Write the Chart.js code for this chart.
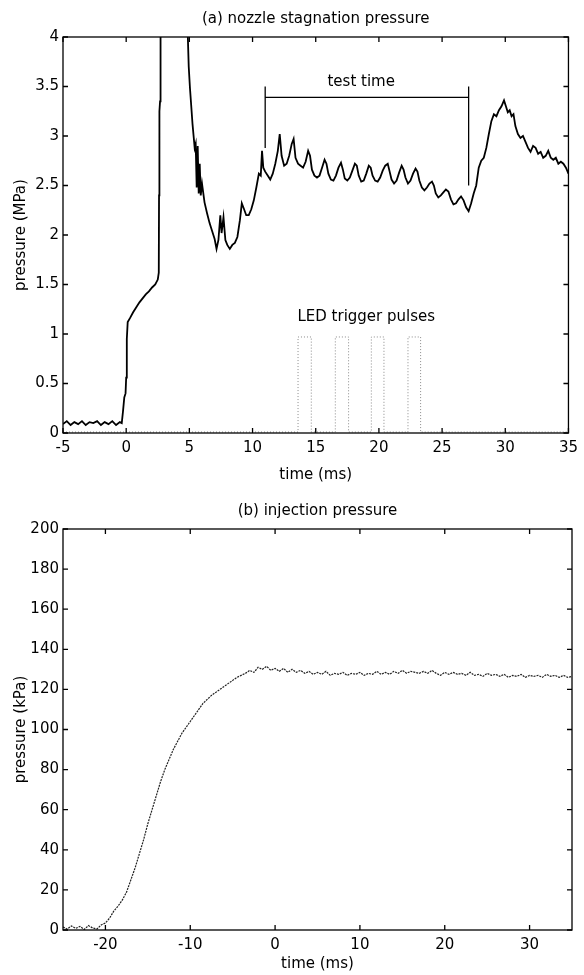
<!DOCTYPE html>
<html>
<head>
<meta charset="utf-8">
<script src="https://cdn.jsdelivr.net/npm/chart.js@4.4.1/dist/chart.umd.min.js"></script>
<style>
  html, body { margin: 0; padding: 0; background: #fff; }
  #wrap { position: relative; width: 584px; height: 975px; }
  canvas { position: absolute; left: 0; }
  #chartA { top: 0; }
  #chartB { top: 492px; }
</style>
</head>
<body>
<div id="wrap">
  <canvas id="chartA" width="584" height="492"></canvas>
  <canvas id="chartB" width="584" height="483"></canvas>
</div>
<script>
// ---- (a) nozzle stagnation pressure (MPa) vs time (ms)
const timeA = [
  -5.0, -4.7, -4.4, -4.1, -3.8, -3.5, -3.2, -2.9, -2.6, -2.3, -2.0, -1.7, -1.4, -1.1, -0.8, -0.5, -0.35, -0.25, -0.15, -0.05,
  0.0, 0.05, 0.12, 0.3, 0.55, 0.8, 1.05, 1.3, 1.55, 1.8, 2.05, 2.3, 2.5, 2.58, 2.6, 2.63, 2.68, 2.72, 2.76,
  4.82, 4.88, 4.95, 5.05, 5.15, 5.25, 5.35, 5.42, 5.5, 5.58, 5.66, 5.74, 5.82, 5.9, 6.0, 6.2, 6.4, 6.6, 6.8, 7.0, 7.15,
  7.3, 7.45, 7.55, 7.7, 7.85, 8.0, 8.2, 8.4, 8.6, 8.8, 9.0, 9.15, 9.3, 9.5, 9.7, 9.9, 10.1, 10.3, 10.5, 10.65,
  10.75, 10.85, 11.0, 11.2, 11.4, 11.6, 11.8, 12.0, 12.15, 12.3, 12.5, 12.7, 12.9, 13.1, 13.25, 13.4, 13.6, 13.8, 14.0, 14.2,
  14.4, 14.55, 14.7, 14.9, 15.1, 15.3, 15.5, 15.7, 15.85, 16.0, 16.2, 16.4, 16.6, 16.8, 17.0, 17.15, 17.3, 17.5, 17.7, 17.9,
  18.1, 18.25, 18.4, 18.6, 18.8, 19.0, 19.2, 19.35, 19.5, 19.7, 19.9, 20.1, 20.3, 20.5, 20.7, 20.85, 21.0, 21.2, 21.4, 21.6,
  21.8, 21.95, 22.1, 22.3, 22.5, 22.7, 22.9, 23.05, 23.2, 23.4, 23.6, 23.8, 24.0, 24.2, 24.35, 24.5, 24.7, 24.9, 25.1, 25.3,
  25.5, 25.7, 25.9, 26.1, 26.3, 26.5, 26.7, 26.9, 27.1, 27.3, 27.5, 27.7, 27.9, 28.1, 28.3, 28.5, 28.7, 28.9, 29.1, 29.3,
  29.5, 29.7, 29.9, 30.05, 30.2, 30.35, 30.5, 30.65, 30.8, 31.0, 31.2, 31.4, 31.6, 31.8, 32.0, 32.2, 32.4, 32.6, 32.8, 33.0,
  33.2, 33.4, 33.6, 33.8, 34.0, 34.2, 34.4, 34.6, 34.8, 35.0
];
const pressureA = [
  0.09, 0.12, 0.08, 0.11, 0.09, 0.12, 0.08, 0.11, 0.10, 0.12, 0.08, 0.11, 0.09, 0.12, 0.08, 0.11, 0.10, 0.22, 0.36, 0.40,
  0.56, 0.95, 1.12, 1.16, 1.22, 1.27, 1.32, 1.36, 1.40, 1.43, 1.47, 1.50, 1.55, 1.62, 2.40, 3.25, 3.35, 4.00, 4.60,
  4.60, 4.00, 3.70, 3.48, 3.30, 3.12, 2.98, 2.88, 2.92, 2.48, 2.90, 2.42, 2.72, 2.40, 2.52, 2.33, 2.22, 2.12, 2.04, 1.96, 1.86,
  1.95, 2.20, 2.02, 2.18, 1.95, 1.90, 1.86, 1.90, 1.92, 1.98, 2.15, 2.32, 2.27, 2.20, 2.20, 2.26, 2.35, 2.48, 2.62, 2.60,
  2.85, 2.68, 2.64, 2.60, 2.56, 2.62, 2.72, 2.85, 3.02, 2.80, 2.70, 2.72, 2.80, 2.92, 2.97, 2.78, 2.72, 2.70, 2.68, 2.74,
  2.85, 2.80, 2.66, 2.60, 2.58, 2.60, 2.68, 2.76, 2.72, 2.62, 2.56, 2.55, 2.60, 2.68, 2.73, 2.66, 2.57, 2.55, 2.58, 2.65,
  2.72, 2.70, 2.60, 2.54, 2.55, 2.62, 2.70, 2.68, 2.60, 2.55, 2.54, 2.58, 2.65, 2.70, 2.72, 2.64, 2.56, 2.52, 2.55, 2.63,
  2.70, 2.66, 2.58, 2.52, 2.55, 2.62, 2.67, 2.64, 2.55, 2.48, 2.45, 2.48, 2.52, 2.54, 2.50, 2.42, 2.38, 2.40, 2.43, 2.46,
  2.44, 2.36, 2.31, 2.32, 2.36, 2.39, 2.35, 2.28, 2.24, 2.32, 2.42, 2.50, 2.68, 2.75, 2.78, 2.88, 3.02, 3.15, 3.22, 3.20,
  3.26, 3.30, 3.36, 3.30, 3.24, 3.26, 3.20, 3.22, 3.10, 3.02, 2.98, 3.00, 2.94, 2.88, 2.84, 2.90, 2.88, 2.82, 2.84, 2.78,
  2.80, 2.85, 2.78, 2.76, 2.78, 2.72, 2.74, 2.72, 2.68, 2.62
];
// LED trigger pulses (dotted trace)
const ledTime = [-5, 13.6, 13.6, 14.65, 14.65, 16.55, 16.55, 17.6, 17.6, 19.4, 19.4, 20.4, 20.4, 22.3, 22.3, 23.3, 23.3, 35];
const ledLevel = [0.01, 0.01, 0.97, 0.97, 0.01, 0.01, 0.97, 0.97, 0.01, 0.01, 0.97, 0.97, 0.01, 0.01, 0.97, 0.97, 0.01, 0.01];
// "test time" bracket
const bracketTime = [11.0, 11.0, 11.0, 27.1, 27.1, 27.1];
const bracketLevel = [2.88, 3.5, 3.39, 3.39, 3.5, 2.5];
const ticksXA = [-5, 0, 5, 10, 15, 20, 25, 30, 35];
const ticksYA = [0, 0.5, 1, 1.5, 2, 2.5, 3, 3.5, 4];

// ---- (b) injection pressure (kPa) vs time (ms)
const timeB = [
  -25, -24.5, -24, -23.5, -23, -22.5, -22, -21.5, -21, -20.5, -20, -19.5, -19, -18.5, -18, -17.5, -17, -16.5, -16, -15.5,
  -15, -14.5, -14, -13.5, -13, -12.5, -12, -11.5, -11, -10.5, -10, -9.5, -9, -8.5, -8, -7.5, -7, -6.5, -6, -5.5,
  -5, -4.5, -4, -3.5, -3, -2.5, -2, -1.5, -1, -0.5, 0, 0.5, 1, 1.5, 2, 2.5, 3, 3.5, 4, 4.5,
  5, 5.5, 6, 6.5, 7, 7.5, 8, 8.5, 9, 9.5, 10, 10.5, 11, 11.5, 12, 12.5, 13, 13.5, 14, 14.5,
  15, 15.5, 16, 16.5, 17, 17.5, 18, 18.5, 19, 19.5, 20, 20.5, 21, 21.5, 22, 22.5, 23, 23.5, 24, 24.5,
  25, 25.5, 26, 26.5, 27, 27.5, 28, 28.5, 29, 29.5, 30, 30.5, 31, 31.5, 32, 32.5, 33, 33.5, 34, 34.5, 35
];
const pressureB = [
  1.5, 0.5, 2, 0.8, 1.8, 0.3, 2.2, 1, 0.5, 2.5, 3.5, 6, 9.5, 12, 15, 19, 25, 31, 38, 45,
  53, 60, 67, 74, 80, 85, 90, 94, 98, 101, 104, 107, 110, 113, 115, 117, 118.5, 120, 121.5, 123,
  124.5, 126, 127, 128, 129.5, 128.5, 131, 130, 131.5, 129.5, 130.5, 129, 130.5, 128.5, 130, 128.5, 129.5, 128, 129, 127.5,
  128.5, 127.5, 129, 127, 128, 127.5, 128.5, 127, 128, 127.5, 128.5, 127, 128, 127.5, 129, 127.5, 128.5, 127.5, 129, 128,
  129.5, 128, 129, 128.5, 128, 129, 128, 129.5, 128, 127, 128.5, 127.5, 128.5, 127.5, 128, 127, 128.5, 127, 127.5, 126.5,
  128, 127, 127.5, 126.5, 127.5, 126, 127, 126.5, 127.5, 126, 127, 126.5, 127, 126, 127.5, 126.5, 127, 126, 127, 126, 126.5
];
const ticksXB = [-20, -10, 0, 10, 20, 30];
const ticksYB = [0, 20, 40, 60, 80, 100, 120, 140, 160, 180, 200];

const FONT = '"DejaVu Sans", Verdana, sans-serif';
const FSIZE = 15;

function pairs(xs, ys) {
  return xs.map((x, i) => ({ x: x, y: ys[i] }));
}

// MATLAB style box with inward ticks, plus title and in-plot labels
const matlabBox = {
  id: 'matlabBox',
  afterDraw(chart, args, opts) {
    const { ctx, chartArea: a, scales } = chart;
    ctx.save();
    ctx.strokeStyle = '#000';
    ctx.lineWidth = 1.3;
    ctx.strokeRect(a.left, a.top, a.right - a.left, a.bottom - a.top);
    const len = 5;
    ctx.beginPath();
    scales.x.ticks.forEach(t => {
      const px = scales.x.getPixelForValue(t.value);
      ctx.moveTo(px, a.bottom); ctx.lineTo(px, a.bottom - len);
      ctx.moveTo(px, a.top); ctx.lineTo(px, a.top + len);
    });
    scales.y.ticks.forEach(t => {
      const py = scales.y.getPixelForValue(t.value);
      ctx.moveTo(a.left, py); ctx.lineTo(a.left + len, py);
      ctx.moveTo(a.right, py); ctx.lineTo(a.right - len, py);
    });
    ctx.stroke();
    ctx.fillStyle = '#000';
    ctx.font = FSIZE + 'px ' + FONT;
    ctx.textAlign = 'center';
    ctx.textBaseline = 'middle';
    ctx.fillText(opts.title, (a.left + a.right) / 2, a.top - 18);
    (opts.notes || []).forEach(n => {
      ctx.fillText(n.text, scales.x.getPixelForValue(n.x), scales.y.getPixelForValue(n.y));
    });
    ctx.restore();
  }
};

function axes(xMin, xMax, xTicks, yMin, yMax, yTicks, yTitle, xHeight, xTitlePad) {
  const font = { family: FONT, size: FSIZE, lineHeight: 1.2 };
  return {
    x: {
      type: 'linear', min: xMin, max: xMax,
      afterBuildTicks: s => { s.ticks = xTicks.map(v => ({ value: v })); },
      afterFit: s => { s.height = xHeight; },
      grid: { display: false, drawTicks: false },
      border: { display: false },
      ticks: { color: '#000', font: font, padding: 6, maxRotation: 0, autoSkip: false, callback: v => String(v) },
      title: { display: true, text: 'time (ms)', color: '#000', font: font, padding: { top: 0, bottom: xTitlePad } }
    },
    y: {
      type: 'linear', min: yMin, max: yMax,
      afterBuildTicks: s => { s.ticks = yTicks.map(v => ({ value: v })); },
      afterFit: s => { s.width = 63; },
      grid: { display: false, drawTicks: false },
      border: { display: false },
      ticks: { color: '#000', font: font, padding: 4, autoSkip: false, callback: v => String(v) },
      title: { display: true, text: yTitle, color: '#000', font: font, padding: { top: 12, bottom: 0 } }
    }
  };
}

new Chart(document.getElementById('chartA'), {
  type: 'line',
  data: {
    datasets: [
      { data: pairs(ledTime, ledLevel), borderColor: '#8a8a8a', borderWidth: 1, borderDash: [1, 2], pointRadius: 0, tension: 0 },
      { data: pairs(timeA, pressureA), borderColor: '#000', borderWidth: 1.8, pointRadius: 0, tension: 0 },
      { data: pairs(bracketTime, bracketLevel), borderColor: '#000', borderWidth: 1.3, pointRadius: 0, tension: 0 }
    ]
  },
  options: {
    responsive: false, animation: false, devicePixelRatio: 1,
    layout: { padding: { top: 37, right: 12, left: 0, bottom: 0 } },
    plugins: {
      legend: { display: false }, tooltip: { enabled: false },
      matlabBox: {
        title: '(a) nozzle stagnation pressure',
        notes: [{ text: 'test time', x: 18.6, y: 3.54 }, { text: 'LED trigger pulses', x: 19.0, y: 1.17 }]
      }
    },
    scales: axes(-5, 35, ticksXA, 0, 4, ticksYA, 'pressure (MPa)', 59, 8)
  },
  plugins: [matlabBox]
});

new Chart(document.getElementById('chartB'), {
  type: 'line',
  data: {
    datasets: [
      { data: pairs(timeB, pressureB), borderColor: '#222', borderWidth: 1.2, borderDash: [2, 1], pointRadius: 0, tension: 0 }
    ]
  },
  options: {
    responsive: false, animation: false, devicePixelRatio: 1,
    layout: { padding: { top: 37, right: 12, left: 0, bottom: 0 } },
    plugins: {
      legend: { display: false }, tooltip: { enabled: false },
      matlabBox: { title: '(b) injection pressure' }
    },
    scales: axes(-25, 35, ticksXB, 0, 200, ticksYB, 'pressure (kPa)', 45, 2)
  },
  plugins: [matlabBox]
});
</script>
</body>
</html>
